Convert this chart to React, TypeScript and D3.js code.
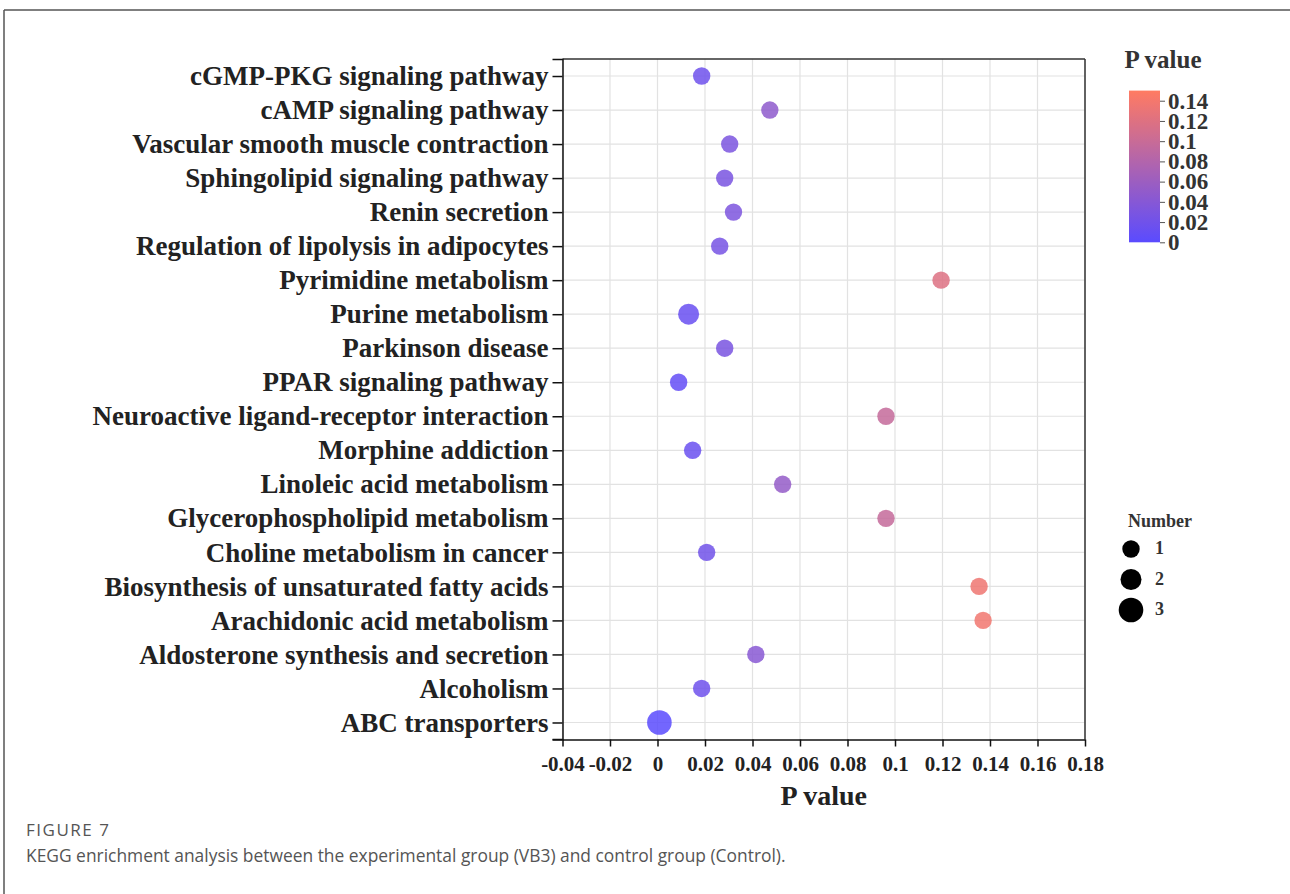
import React, { useEffect, useRef } from "react";
import * as d3 from "d3";

const categories = [
  "cGMP-PKG signaling pathway",
  "cAMP signaling pathway",
  "Vascular smooth muscle contraction",
  "Sphingolipid signaling pathway",
  "Renin secretion",
  "Regulation of lipolysis in adipocytes",
  "Pyrimidine metabolism",
  "Purine metabolism",
  "Parkinson disease",
  "PPAR signaling pathway",
  "Neuroactive ligand-receptor interaction",
  "Morphine addiction",
  "Linoleic acid metabolism",
  "Glycerophospholipid metabolism",
  "Choline metabolism in cancer",
  "Biosynthesis of unsaturated fatty acids",
  "Arachidonic acid metabolism",
  "Aldosterone synthesis and secretion",
  "Alcoholism",
  "ABC transporters",
];

const pValues = [
  0.0186, 0.0473, 0.0304, 0.0283, 0.032, 0.0262, 0.1194, 0.0131, 0.0283, 0.0089,
  0.0962, 0.0148, 0.0527, 0.0962, 0.0207, 0.1354, 0.1371, 0.0414, 0.0186, 0.0008,
];

const counts = [1, 1, 1, 1, 1, 1, 1, 2, 1, 1, 1, 1, 1, 1, 1, 1, 1, 1, 1, 3];

const xTicks = [-0.04, -0.02, 0, 0.02, 0.04, 0.06, 0.08, 0.1, 0.12, 0.14, 0.16, 0.18];
const colorTicks = [0, 0.02, 0.04, 0.06, 0.08, 0.1, 0.12, 0.14];
const sizeLegend = [1, 2, 3];

const SERIF = "'Liberation Serif', 'Times New Roman', serif";

export default function App() {
  const ref = useRef<SVGSVGElement>(null);

  useEffect(() => {
    const svg = d3.select(ref.current);
    svg.selectAll("*").remove();

    // Frame
    svg.append("line").attr("x1", 4).attr("x2", 1290).attr("y1", 10).attr("y2", 10)
      .attr("stroke", "#555").attr("stroke-width", 1.5);
    svg.append("line").attr("x1", 4).attr("x2", 4).attr("y1", 10).attr("y2", 894)
      .attr("stroke", "#555").attr("stroke-width", 1.5);

    const left = 562.5, right = 1085, top = 59, bottom = 739.5;

    const x = d3.scaleLinear().domain([-0.04, 0.18]).range([left, right]);
    const y = d3.scalePoint<string>().domain(categories).range([top, bottom]).padding(0.5);
    const color = d3.scaleLinear<string>().domain([0, 0.15]).range(["#5a4bff", "#ff7b62"]).interpolate(d3.interpolateRgb);
    const size = d3.scaleLinear().domain([1, 3]).range([8.7, 12.3]);

    const g = svg.append("g");

    // grid
    g.selectAll(".vg").data(xTicks).enter().append("line")
      .attr("x1", (d) => x(d)).attr("x2", (d) => x(d)).attr("y1", top).attr("y2", bottom)
      .attr("stroke", "#e2e2e2").attr("stroke-width", 1.2);
    g.selectAll(".hg").data(categories).enter().append("line")
      .attr("x1", left).attr("x2", right).attr("y1", (d) => y(d)!).attr("y2", (d) => y(d)!)
      .attr("stroke", "#e2e2e2").attr("stroke-width", 1.2);

    // top & right frame
    g.append("line").attr("x1", left).attr("x2", right).attr("y1", top).attr("y2", top)
      .attr("stroke", "#333").attr("stroke-width", 1.5);
    g.append("line").attr("x1", right).attr("x2", right).attr("y1", top).attr("y2", bottom)
      .attr("stroke", "#333").attr("stroke-width", 1.5);

    // points
    g.selectAll(".pt").data(categories).enter().append("circle")
      .attr("cx", (_d, i) => x(pValues[i]))
      .attr("cy", (d) => y(d)!)
      .attr("r", (_d, i) => size(counts[i]))
      .attr("fill", (_d, i) => color(pValues[i]))
      .attr("fill-opacity", 0.85);

    // Y axis
    const yAxis = d3.axisLeft(y).tickSize(10).tickSizeOuter(10).tickPadding(4);
    const ya = svg.append("g").attr("transform", `translate(${left},0)`).call(yAxis as any);
    ya.select(".domain").attr("stroke", "#111").attr("stroke-width", 1.5);
    ya.selectAll(".tick line").attr("stroke", "#111").attr("stroke-width", 1.5);
    ya.selectAll(".tick text").attr("font-family", SERIF).attr("font-weight", "bold")
      .attr("font-size", 27).attr("fill", "#222");

    // X axis
    const xAxis = d3.axisBottom(x).tickValues(xTicks).tickSize(7).tickSizeOuter(0).tickPadding(10)
      .tickFormat((d) => String(d));
    const xa = svg.append("g").attr("transform", `translate(0,${bottom})`).call(xAxis as any);
    xa.select(".domain").attr("stroke", "#111").attr("stroke-width", 1.5);
    xa.selectAll(".tick line").attr("stroke", "#111").attr("stroke-width", 1.5);
    xa.selectAll(".tick text").attr("font-family", SERIF).attr("font-weight", "bold")
      .attr("font-size", 21).attr("fill", "#222");
    // bottom-left outer extension
    svg.append("line").attr("x1", left - 10).attr("x2", left).attr("y1", bottom).attr("y2", bottom)
      .attr("stroke", "#111").attr("stroke-width", 1.5);

    svg.append("text").attr("x", (left + right) / 2).attr("y", 805).attr("text-anchor", "middle")
      .attr("font-family", SERIF).attr("font-weight", "bold").attr("font-size", 28).attr("fill", "#222")
      .text("P value");

    // Color legend
    const barX = 1129, barW = 31;
    const cy = d3.scaleLinear().domain([0, 0.15]).range([242.3, 90.6]);
    const defs = svg.append("defs");
    const grad = defs.append("linearGradient").attr("id", "pgrad")
      .attr("x1", "0").attr("y1", "1").attr("x2", "0").attr("y2", "0");
    d3.range(0, 1.0001, 0.1).forEach((t) => {
      grad.append("stop").attr("offset", t).attr("stop-color", color(t * 0.15));
    });
    svg.append("rect").attr("x", barX).attr("y", cy(0.15)).attr("width", barW)
      .attr("height", cy(0) - cy(0.15)).attr("fill", "url(#pgrad)");
    const cAxis = d3.axisRight(cy).tickValues(colorTicks).tickSize(5).tickSizeOuter(0).tickPadding(3)
      .tickFormat((d) => String(d));
    const ca = svg.append("g").attr("transform", `translate(${barX + barW},0)`).call(cAxis as any);
    ca.select(".domain").remove();
    ca.selectAll(".tick line").attr("stroke", "#555").attr("stroke-width", 1);
    ca.selectAll(".tick text").attr("font-family", SERIF).attr("font-weight", "bold")
      .attr("font-size", 23).attr("fill", "#333");
    svg.append("text").attr("x", 1163).attr("y", 68).attr("text-anchor", "middle")
      .attr("font-family", SERIF).attr("font-weight", "bold").attr("font-size", 25).attr("fill", "#333")
      .text("P value");

    // Size legend
    svg.append("text").attr("x", 1160).attr("y", 527).attr("text-anchor", "middle")
      .attr("font-family", SERIF).attr("font-weight", "bold").attr("font-size", 18).attr("fill", "#333")
      .text("Number");
    const sy = d3.scalePoint<number>().domain(sizeLegend).range([549, 610]);
    const sl = svg.append("g");
    sl.selectAll("circle").data(sizeLegend).enter().append("circle")
      .attr("cx", 1131).attr("cy", (d) => sy(d)!).attr("r", (d) => size(d)).attr("fill", "#000");
    sl.selectAll("text").data(sizeLegend).enter().append("text")
      .attr("x", 1155).attr("y", (d) => sy(d)! + 1).attr("dominant-baseline", "middle")
      .attr("font-family", SERIF).attr("font-weight", "bold").attr("font-size", 18).attr("fill", "#333")
      .text((d) => String(d));

    // Caption
    svg.append("text").attr("x", 26).attr("y", 836)
      .attr("font-family", "'Open Sans', sans-serif").attr("font-size", 17).attr("letter-spacing", 1.5)
      .attr("fill", "#555")
      .text("FIGURE 7");
    svg.append("text").attr("x", 26).attr("y", 862)
      .attr("font-family", "'Open Sans', sans-serif").attr("font-size", 17.4).attr("fill", "#555")
      .text("KEGG enrichment analysis between the experimental group (VB3) and control group (Control).");
  }, []);

  return (
    <svg ref={ref} width={1290} height={894}
      style={{ position: "absolute", left: 0, top: 0, background: "#fff" }} />
  );
}
